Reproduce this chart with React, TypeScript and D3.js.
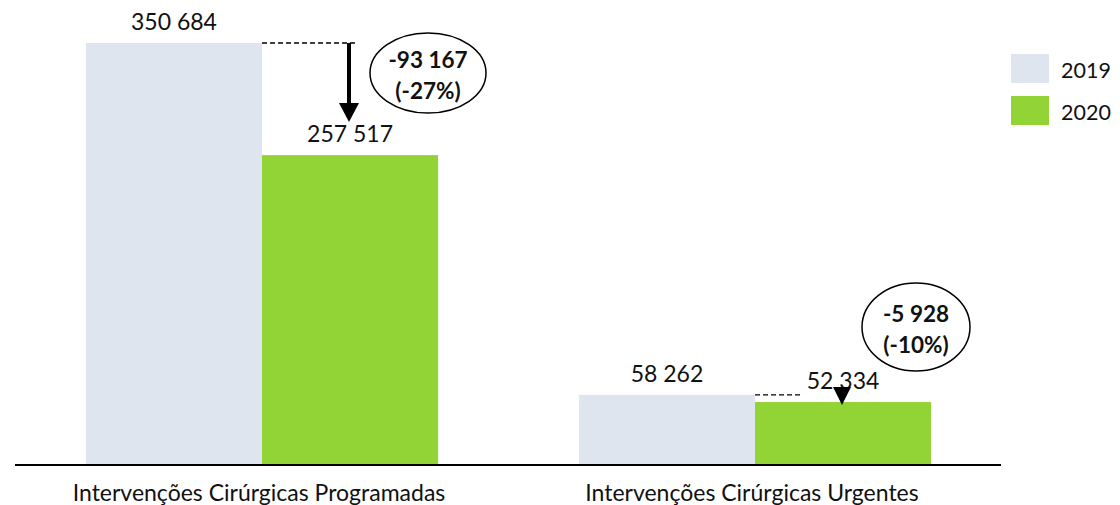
import React from 'react';
import * as d3 from 'd3';

const categories = ['Intervenções Cirúrgicas Programadas', 'Intervenções Cirúrgicas Urgentes'];
const series = ['2019', '2020'];
const values2019 = [350684, 58262];
const values2020 = [257517, 52334];
const diffLabels = ['-93 167', '-5 928'];
const pctLabels = ['(-27%)', '(-10%)'];
const colors = ['#DEE5EF', '#92D435'];

const W = 1120;
const H = 505;
const font = 'Lato, "Open Sans", sans-serif';
const fmt = (v: number) => d3.format(',')(v).replace(/,/g, ' ');

export default function App() {
  const x0 = d3.scaleBand<string>().domain(categories).range([15.5, 1001.5]).padding(0);
  const x1 = d3.scaleBand<string>().domain(series).range([0, x0.bandwidth()]).paddingInner(0).paddingOuter(0.4);
  const y = d3.scaleLinear().domain([0, 350684]).range([465, 43]);
  const data = [values2019, values2020];

  const ellipses = [
    { cx: 428, cy: 73, rx: 58, ry: 40 },
    { cx: 916, cy: 327, rx: 54, ry: 44 },
  ];

  return (
    <svg width={W} height={H} style={{ position: 'absolute', left: 0, top: 0 }} fontFamily={font}>
      {categories.map((c, i) => (
        <g key={c}>
          {series.map((s, j) => {
            const bx = (x0(c) as number) + (x1(s) as number);
            const v = data[j][i];
            return (
              <g key={s}>
                <rect x={bx} y={y(v)} width={x1.bandwidth()} height={y(0) - y(v)} fill={colors[j]} />
                <text x={bx + x1.bandwidth() / 2} y={y(v) - 13} textAnchor="middle" fontSize={23} fill="#111">
                  {fmt(v)}
                </text>
              </g>
            );
          })}
          <text x={(x0(c) as number) + x0.bandwidth() / 2 - 3} y={501} textAnchor="middle" fontSize={23} fill="#111">
            {c}
          </text>
        </g>
      ))}

      {/* annotation 1 */}
      {(() => {
        const c = categories[0];
        const xs = (x0(c) as number) + (x1('2020') as number);
        const top = y(values2019[0]);
        return (
          <g>
            <line x1={xs} x2={357} y1={top} y2={top} stroke="#000" strokeDasharray="5,3" strokeWidth={1.3} />
            <line x1={349} x2={349} y1={top} y2={104} stroke="#000" strokeWidth={4} />
            <path d={`M339,103 L359,103 L349,122 Z`} fill="#000" />
          </g>
        );
      })()}
      {/* annotation 2 */}
      {(() => {
        const c = categories[1];
        const xs = (x0(c) as number) + (x1('2020') as number);
        const top = y(values2019[1]);
        return (
          <g>
            <line x1={xs} x2={800} y1={top} y2={top} stroke="#000" strokeDasharray="5,3" strokeWidth={1.3} />
            <path d={`M833,387 L851,387 L842,405 Z`} fill="#000" />
          </g>
        );
      })()}

      {ellipses.map((e, i) => (
        <g key={i}>
          <ellipse cx={e.cx} cy={e.cy} rx={e.rx} ry={e.ry} fill="#fff" stroke="#000" strokeWidth={1.5} />
          <text x={e.cx} y={e.cy - 5} textAnchor="middle" fontSize={22.5} fontWeight="bold" fill="#111">
            {diffLabels[i]}
          </text>
          <text x={e.cx} y={e.cy + 26} textAnchor="middle" fontSize={22.5} fontWeight="bold" fill="#111">
            {pctLabels[i]}
          </text>
        </g>
      ))}

      <line x1={15} x2={1001} y1={465} y2={465} stroke="#000" strokeWidth={2} />

      {series.map((s, j) => (
        <g key={s}>
          <rect x={1011} y={54 + j * 42} width={38} height={29} fill={colors[j]} />
          <text x={1061} y={78 + j * 42} fontSize={21.5} fill="#111">{s}</text>
        </g>
      ))}
    </svg>
  );
}
